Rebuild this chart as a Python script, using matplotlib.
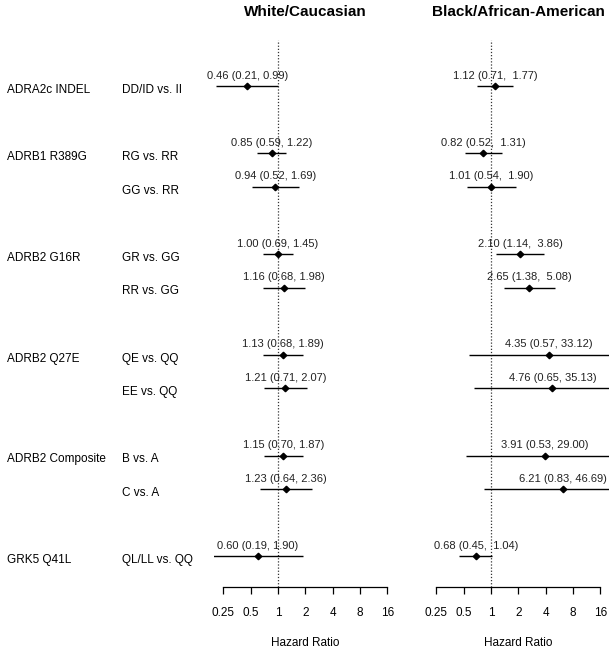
import matplotlib
matplotlib.use("Agg")
from matplotlib import pyplot as plt
from matplotlib.transforms import blended_transform_factory

plt.rcParams['font.family'] = ['Liberation Sans', 'DejaVu Sans']

# genes and the comparisons that belong to each
genes = ["ADRA2c INDEL", "ADRB1 R389G", "ADRB2 G16R", "ADRB2 Q27E",
         "ADRB2 Composite", "GRK5 Q41L"]
comparisons = [["DD/ID vs. II"],
               ["RG vs. RR", "GG vs. RR"],
               ["GR vs. GG", "RR vs. GG"],
               ["QE vs. QQ", "EE vs. QQ"],
               ["B vs. A", "C vs. A"],
               ["QL/LL vs. QQ"]]

white_est = [0.46, 0.85, 0.94, 1.00, 1.16, 1.13, 1.21, 1.15, 1.23, 0.60]
white_lo = [0.21, 0.59, 0.52, 0.69, 0.68, 0.68, 0.71, 0.70, 0.64, 0.19]
white_hi = [0.99, 1.22, 1.69, 1.45, 1.98, 1.89, 2.07, 1.87, 2.36, 1.90]

black_est = [1.12, 0.82, 1.01, 2.10, 2.65, 4.35, 4.76, 3.91, 6.21, 0.68]
black_lo = [0.71, 0.52, 0.54, 1.14, 1.38, 0.57, 0.65, 0.53, 0.83, 0.45]
black_hi = [1.77, 1.31, 1.90, 3.86, 5.08, 33.12, 35.13, 29.00, 46.69, 1.04]

xticks = [0.25, 0.5, 1, 2, 4, 8, 16]
xtick_labels = ["0.25", "0.5", "1", "2", "4", "8", "16"]

# row layout: one blank row between genes
rows, gene_rows, comp_labels = [], [], []
r = 1
for g, comps in zip(genes, comparisons):
    gene_rows.append(r)
    for c in comps:
        rows.append(r)
        comp_labels.append(c)
        r += 1
    r += 1

fig = plt.figure(figsize=(6.15, 6.53), dpi=100)
W, H = 615, 653
bottom, top = 587, 40
ax1 = fig.add_axes([214.5 / W, (H - bottom) / H, 181.5 / W, (bottom - top) / H])
ax2 = fig.add_axes([427.5 / W, (H - bottom) / H, 181.5 / W, (bottom - top) / H])

panels = [(ax1, white_est, white_lo, white_hi, "White/Caucasian", "{:.2f} ({:.2f}, {:.2f})"),
          (ax2, black_est, black_lo, black_hi, "Black/African-American", "{:.2f} ({:.2f}, {:5.2f})")]

for ax, est, lo, hi, title, fmt in panels:
    ax.set_xscale("log", base=2)
    ax.set_xlim(0.2, 20)
    ax.set_ylim(15.91, -0.37)
    ax.axvline(1, color="#333333", lw=0.9, ls=(0, (1, 1.5)), zorder=1)
    ax.hlines(rows, lo, hi, color="black", lw=1, zorder=2)
    ax.plot(est, rows, "D", color="black", ms=3.3, zorder=3)
    for e, l, h, y in zip(est, lo, hi, rows):
        ax.text(e, y - 0.22, fmt.format(e, l, h), ha="center", va="baseline",
                fontsize=8, color="#222222")
    for s in ["left", "right", "top"]:
        ax.spines[s].set_visible(False)
    ax.spines["bottom"].set_bounds(0.25, 16)
    ax.spines["bottom"].set_linewidth(0.9)
    ax.set_yticks([])
    ax.set_xticks(xticks)
    ax.set_xticklabels(xtick_labels)
    ax.minorticks_off()
    ax.tick_params(axis="x", length=5, width=0.9, pad=9.5, labelsize=8.5)
    tr = blended_transform_factory(ax.transData, fig.transFigure)
    ax.text(2, (H - 12) / H, title, transform=tr, ha="center", va="center",
            fontsize=11, fontweight="bold")
    ax.text(2, (H - 643) / H, "Hazard Ratio", transform=tr, ha="center",
            va="center", fontsize=8.5)

tr = blended_transform_factory(fig.transFigure, ax1.transData)
for g, y in zip(genes, gene_rows):
    ax1.text(7 / W, y + 0.2, g, transform=tr, ha="left", va="baseline", fontsize=8.5)
for c, y in zip(comp_labels, rows):
    ax1.text(122 / W, y + 0.2, c, transform=tr, ha="left", va="baseline", fontsize=8.5)

plt.savefig("out.png", dpi=100)
